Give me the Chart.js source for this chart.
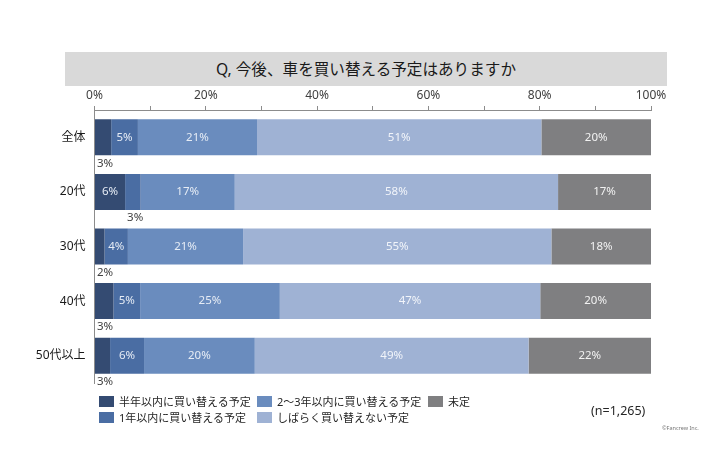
<!DOCTYPE html>
<html lang="ja">
<head>
<meta charset="utf-8">
<script src="https://cdn.jsdelivr.net/npm/chart.js@4.4.1/dist/chart.umd.min.js"></script>
<style>
  body { margin: 0; background: #fff; font-family: "Noto Sans", "Noto Sans CJK JP", sans-serif; }
  #wrap { position: relative; width: 710px; height: 474px; overflow: hidden; }
  #chart { position: absolute; left: 0; top: 0; }
  #title {
    position: absolute; left: 65px; top: 52px; width: 602px; height: 34px;
    background: #d9d9d9; color: #1a1a1a; font-size: 15.6px;
    line-height: 34px; text-align: center;
  }
  .legend-item { position: absolute; font-size: 11px; color: #262626; white-space: nowrap; line-height: 14px; }
  .legend-item span { display: inline-block; width: 15px; height: 11px; margin-right: 5px; vertical-align: -1px; }
  #sample { position: absolute; left: 591px; top: 402px; font-size: 12.5px; color: #262626; }
  #credit { position: absolute; left: 662px; top: 424px; font-size: 5.5px; color: #777; }
</style>
</head>
<body>
<div id="wrap">
  <canvas id="chart" width="710" height="474"></canvas>
  <div id="title">Q, 今後、車を買い替える予定はありますか</div>
  <div id="legend"></div>
  <div id="sample">(n=1,265)</div>
  <div id="credit">©Fancrew Inc.</div>
</div>
<script>
const categories = ["全体", "20代", "30代", "40代", "50代以上"];
const seriesNames = [
  "半年以内に買い替える予定",
  "1年以内に買い替える予定",
  "2～3年以内に買い替える予定",
  "しばらく買い替えない予定",
  "未定",
];
// values (percent, rounded labels shown on bars)
const halfYear = [3.0, 5.5, 1.8, 3.4, 2.8];
const oneYear = [4.8, 2.8, 4.2, 4.8, 6.1];
const twoThreeYears = [21.4, 16.9, 20.7, 25.1, 19.9];
const notForAWhile = [51.1, 58.1, 55.4, 46.8, 49.2];
const undecided = [19.7, 16.7, 17.9, 19.9, 22.0];
const tickLabels = [0, 20, 40, 60, 80, 100];

const seriesValues = [halfYear, oneYear, twoThreeYears, notForAWhile, undecided];
const colors = ["#344b72", "#4a6da3", "#6a8cbe", "#9fb2d4", "#7f7f81"];
const labelColors = ["#e6ecf5", "#e6ecf5", "#e6ecf5", "#f2f5fa", "#f2f2f2"];
const font = "'Noto Sans', 'Noto Sans CJK JP', sans-serif";

// small segments get their label under the bar, like the original
const barLabels = {
  id: "barLabels",
  afterDatasetsDraw(chart) {
    const ctx = chart.ctx;
    chart.data.datasets.forEach((ds, i) => {
      const meta = chart.getDatasetMeta(i);
      meta.data.forEach((bar, j) => {
        const v = ds.data[j];
        const p = bar.getProps(["x", "y", "base", "height"], true);
        const text = Math.round(v) + "%";
        ctx.save();
        ctx.font = "11.5px " + font;
        ctx.textBaseline = "middle";
        if (v < 3.5) {
          ctx.fillStyle = "#404040";
          ctx.textAlign = "left";
          ctx.fillText(text, p.base + 2, p.y + p.height / 2 + 8);
        } else {
          ctx.fillStyle = labelColors[i];
          ctx.textAlign = "center";
          ctx.fillText(text, (p.x + p.base) / 2, p.y);
        }
        ctx.restore();
      });
    });
  },
};

new Chart(document.getElementById("chart"), {
  type: "bar",
  data: {
    labels: categories,
    datasets: seriesNames.map((name, i) => ({
      label: name,
      data: seriesValues[i],
      backgroundColor: colors[i],
      borderWidth: 0,
      categoryPercentage: 1,
      barPercentage: 0.66,
    })),
  },
  options: {
    indexAxis: "y",
    responsive: false,
    animation: false,
    layout: { padding: { left: 0, right: 59, top: 90, bottom: 91 } },
    plugins: {
      legend: { display: false },
      tooltip: { enabled: false },
    },
    scales: {
      x: {
        position: "top",
        stacked: true,
        min: 0,
        max: 100,
        afterFit(scale) {
          scale.height = 20;
        },
        grid: { drawOnChartArea: false, drawTicks: true, tickLength: 4, color: "#8c8c8c" },
        border: { color: "#8c8c8c" },
        ticks: {
          stepSize: 10,
          autoSkip: false,
          maxRotation: 0,
          padding: 3,
          color: "#404040",
          font: { family: font, size: 12 },
          callback: (v) => (tickLabels.includes(v) ? v + "%" : ""),
        },
      },
      y: {
        stacked: true,
        afterFit(scale) {
          scale.width = 94.5;
        },
        grid: { drawOnChartArea: false, drawTicks: false },
        border: { color: "#8c8c8c" },
        ticks: {
          padding: 9,
          color: "#1a1a1a",
          font: { family: font, size: 12 },
        },
      },
    },
  },
  plugins: [barLabels],
});

// legend laid out column by column as in the source
const legendLeft = [99, 257, 428];
const legend = document.getElementById("legend");
seriesNames.forEach((name, i) => {
  const item = document.createElement("div");
  item.className = "legend-item";
  item.style.left = legendLeft[Math.floor(i / 2)] + "px";
  item.style.top = (395 + (i % 2) * 16) + "px";
  item.innerHTML = '<span style="background:' + colors[i] + '"></span>' + name;
  legend.appendChild(item);
});
</script>
</body>
</html>
